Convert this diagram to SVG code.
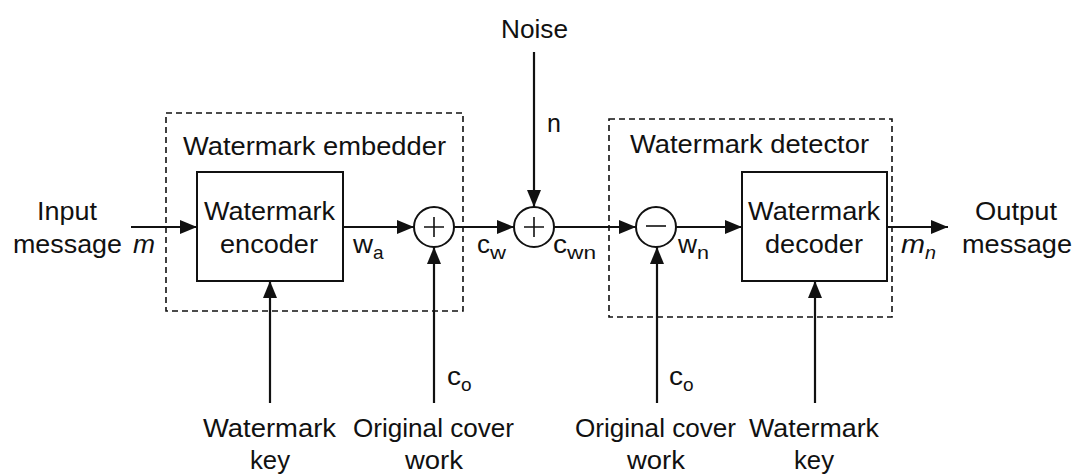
<svg xmlns="http://www.w3.org/2000/svg" width="1074" height="476" viewBox="0 0 1074 476">
<style>
text{font-family:"Liberation Sans",Arial,sans-serif;font-size:25px;fill:#111}
.sub{font-size:19px}
.it{font-style:italic}
.box{fill:none;stroke:#111;stroke-width:2}
.dash{fill:none;stroke:#111;stroke-width:1.6;stroke-dasharray:6,4}
.ln{fill:none;stroke:#111;stroke-width:2.2}
.arr{fill:none;stroke:#111;stroke-width:2.2;marker-end:url(#ah)}
.sign{fill:none;stroke:#111;stroke-width:1.6}
</style>
<defs>
<marker id="ah" markerUnits="userSpaceOnUse" markerWidth="18" markerHeight="14" refX="17" refY="7" orient="auto">
<path d="M0,0 L17,7 L0,14 z" fill="#111"/>
</marker>
</defs>
<rect width="1074" height="476" fill="#fff"/>

<g id="embedder">
<rect class="dash" x="166" y="113" width="297" height="198"/>
<text x="183" y="155" textLength="263" lengthAdjust="spacingAndGlyphs">Watermark embedder</text>
</g>
<g id="detector">
<rect class="dash" x="609" y="119" width="283" height="198"/>
<text x="630" y="153" textLength="239" lengthAdjust="spacingAndGlyphs">Watermark detector</text>
</g>

<g id="encoder">
<rect class="box" x="197" y="172" width="146" height="109"/>
<text x="204" y="220" textLength="131" lengthAdjust="spacingAndGlyphs">Watermark</text>
<text x="220" y="253" textLength="98" lengthAdjust="spacingAndGlyphs">encoder</text>
</g>
<g id="decoder">
<rect class="box" x="742" y="172" width="145" height="109"/>
<text x="748" y="220" textLength="132" lengthAdjust="spacingAndGlyphs">Watermark</text>
<text x="765" y="253" textLength="98" lengthAdjust="spacingAndGlyphs">decoder</text>
</g>

<g id="sum1">
<circle class="box" cx="434" cy="227" r="20" stroke-width="1.8"/>
<path class="sign" d="M424,227 H444 M434,217 V237"/>
</g>
<g id="sum2">
<circle class="box" cx="534" cy="227" r="20" stroke-width="1.8"/>
<path class="sign" d="M524,227 H544 M534,217 V237"/>
</g>
<g id="diff">
<circle class="box" cx="656" cy="227" r="20" stroke-width="1.8"/>
<path class="sign" d="M646,226 H666"/>
</g>

<g id="input">
<text x="37" y="220" textLength="60" lengthAdjust="spacingAndGlyphs">Input</text>
<text x="13" y="253" textLength="109" lengthAdjust="spacingAndGlyphs">message</text>
<text class="it" x="133" y="253" textLength="22" lengthAdjust="spacingAndGlyphs">m</text>
</g>
<g id="output">
<text x="975" y="220" textLength="82" lengthAdjust="spacingAndGlyphs">Output</text>
<text x="962" y="253" textLength="110" lengthAdjust="spacingAndGlyphs">message</text>
</g>
<g id="noise">
<text x="501" y="38" textLength="67" lengthAdjust="spacingAndGlyphs">Noise</text>
</g>
<g id="wmkey1">
<text x="203" y="437" textLength="133" lengthAdjust="spacingAndGlyphs">Watermark</text>
<text x="250" y="469" textLength="40" lengthAdjust="spacingAndGlyphs">key</text>
</g>
<g id="cover1">
<text x="353" y="437" textLength="161" lengthAdjust="spacingAndGlyphs">Original cover</text>
<text x="405" y="469" textLength="58" lengthAdjust="spacingAndGlyphs">work</text>
</g>
<g id="cover2">
<text x="575" y="437" textLength="161" lengthAdjust="spacingAndGlyphs">Original cover</text>
<text x="627" y="469" textLength="58" lengthAdjust="spacingAndGlyphs">work</text>
</g>
<g id="wmkey2">
<text x="749" y="437" textLength="130" lengthAdjust="spacingAndGlyphs">Watermark</text>
<text x="794" y="469" textLength="40" lengthAdjust="spacingAndGlyphs">key</text>
</g>

<g id="connectors">
<line class="arr" x1="131" y1="227" x2="197" y2="227"/>
<line class="arr" x1="343" y1="227" x2="414" y2="227"/>
<line class="arr" x1="454" y1="227" x2="514" y2="227"/>
<line class="arr" x1="554" y1="227" x2="636" y2="227"/>
<line class="arr" x1="676" y1="227" x2="742" y2="227"/>
<line class="arr" x1="887" y1="227" x2="948" y2="227"/>
<line class="arr" x1="534" y1="52" x2="534" y2="207"/>
<line class="arr" x1="270" y1="403" x2="270" y2="281"/>
<line class="arr" x1="434" y1="403" x2="434" y2="247"/>
<line class="arr" x1="657" y1="403" x2="657" y2="247"/>
<line class="arr" x1="815" y1="403" x2="815" y2="281"/>
<text x="353" y="253" textLength="20" lengthAdjust="spacingAndGlyphs">w</text><text class="sub" x="373" y="259">a</text>
<text x="477" y="253" textLength="13" lengthAdjust="spacingAndGlyphs">c</text><text class="sub" x="490" y="259" textLength="16" lengthAdjust="spacingAndGlyphs">w</text>
<text x="553" y="253" textLength="14" lengthAdjust="spacingAndGlyphs">c</text><text class="sub" x="567" y="259" textLength="29" lengthAdjust="spacingAndGlyphs">wn</text>
<text x="678" y="253" textLength="19" lengthAdjust="spacingAndGlyphs">w</text><text class="sub" x="697" y="259" textLength="12" lengthAdjust="spacingAndGlyphs">n</text>
<text class="it" x="901" y="253" textLength="24" lengthAdjust="spacingAndGlyphs">m</text><text class="sub it" x="925" y="259" textLength="11" lengthAdjust="spacingAndGlyphs">n</text>
<text x="547" y="132">n</text>
<text x="447" y="385" textLength="14" lengthAdjust="spacingAndGlyphs">c</text><text class="sub" x="461" y="391">o</text>
<text x="669" y="385" textLength="14" lengthAdjust="spacingAndGlyphs">c</text><text class="sub" x="683" y="391">o</text>
</g>
</svg>
